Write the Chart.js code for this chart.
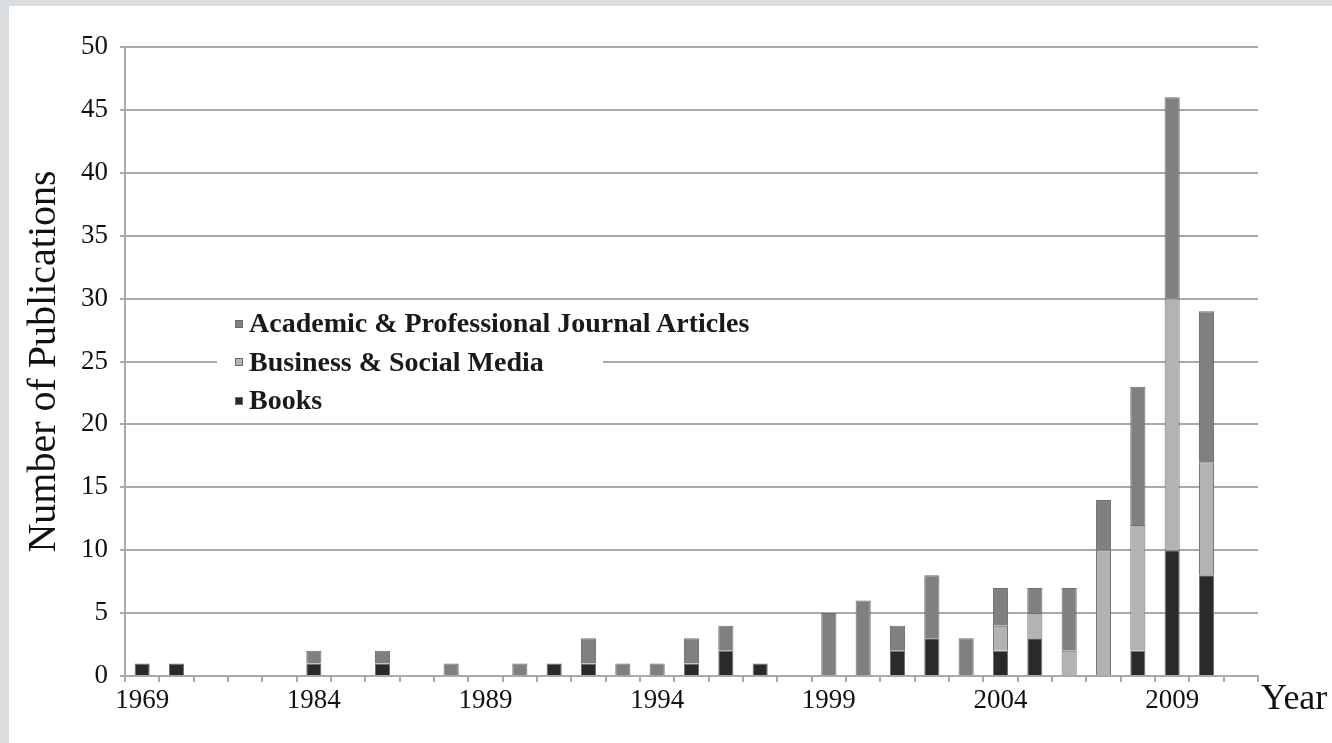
<!DOCTYPE html>
<html>
<head>
<meta charset="utf-8">
<script src="https://cdn.jsdelivr.net/npm/chart.js@4/dist/chart.umd.min.js"></script>
<style>
  html, body { margin: 0; padding: 0; }
  body { width: 1332px; height: 743px; background: #dadde0; position: relative; overflow: hidden; }
  #panel { position: absolute; left: 9px; top: 6px; width: 1323px; height: 737px; background: #ffffff; }
  #c { position: absolute; left: 0; top: 0; }
  #legend { position: absolute; left: 208px; top: 294px; width: 386px; height: 123px; background: #ffffff;
            font-family: "Liberation Serif", "Times New Roman", serif; font-size: 28px; font-weight: bold; color: #1a1a1a; }
  .item { position: absolute; left: 18px; height: 36px; line-height: 36px; white-space: nowrap; }
  .sw { display: inline-block; width: 8px; height: 8px; margin-right: 6px; vertical-align: middle; position: relative; top: -2px; box-sizing: border-box; border: 1px solid #6a6a6a; }
  #year { position: absolute; left: 1252px; top: 673px; font-family: "Liberation Serif", "Times New Roman", serif; font-size: 36px; line-height: 1; color: #111; }
</style>
</head>
<body>
<div id="panel">
  <canvas id="c" width="1323" height="737"></canvas>
  <div id="legend"></div>
  <div id="year">Year</div>
</div>
<script>
const years = ['1969','1970','1981','1982','1983','1984','1985','1986','1987','1988','1989','1990','1991','1992','1993','1994','1995','1996','1997','1998','1999','2000','2001','2002','2003','2004','2005','2006','2007','2008','2009','2010','2011'];
const books    = [1,1,0,0,0,1,0,1,0,0,0,0,1,1,0,0,1,2,1,0,0,0,2,3,0,2,3,0,0,2,10,8,0];
const business = [0,0,0,0,0,0,0,0,0,0,0,0,0,0,0,0,0,0,0,0,0,0,0,0,0,2,2,2,10,10,20,9,0];
const academic = [0,0,0,0,0,1,0,1,0,1,0,1,0,2,1,1,2,2,0,0,5,6,2,5,3,3,2,5,4,11,16,12,0];
const yTicks = [0,5,10,15,20,25,30,35,40,45,50];
const seriesNames = ['Academic & Professional Journal Articles', 'Business & Social Media', 'Books'];
const seriesColors = ['#808080', '#b3b3b3', '#2a2a2a'];

const serif = '"Liberation Serif", "Times New Roman", serif';
const gridColor = '#a9a9a9';

// stacking order: Books (bottom), Business (middle), Academic (top)
const datasets = [
  { label: seriesNames[2], data: books.map(v => v || null), backgroundColor: seriesColors[2] },
  { label: seriesNames[1], data: business.map(v => v || null), backgroundColor: seriesColors[1] },
  { label: seriesNames[0], data: academic.map(v => v || null), backgroundColor: seriesColors[0] }
].map(d => Object.assign(d, { borderColor: '#6e6e6e', borderWidth: 1, categoryPercentage: 0.44, barPercentage: 1 }));

const chart = new Chart(document.getElementById('c'), {
  type: 'bar',
  data: { labels: years, datasets },
  options: {
    responsive: false,
    animation: false,
    layout: { padding: { left: 0, right: 74, top: 41, bottom: 0 } },
    plugins: { legend: { display: false }, tooltip: { enabled: false } },
    scales: {
      x: {
        stacked: true,
        grid: { display: true, drawOnChartArea: false, drawTicks: true, tickLength: 6, color: gridColor, lineWidth: 2, offset: true },
        border: { display: true, color: gridColor, width: 2 },
        ticks: {
          autoSkip: false, maxRotation: 0, minRotation: 0, padding: 3,
          color: '#111', font: { family: serif, size: 27 },
          callback: function(v, i) { return i % 5 === 0 ? years[i] : ''; }
        },
        afterFit: s => { s.height = 67; }
      },
      y: {
        stacked: true, min: 0, max: 50,
        afterBuildTicks: s => { s.ticks = yTicks.map(v => ({ value: v })); },
        grid: { color: gridColor, lineWidth: 2, tickLength: 5, drawTicks: true },
        border: { display: true, color: gridColor, width: 2 },
        ticks: { padding: 12, color: '#111', font: { family: serif, size: 27 } },
        title: { display: true, text: 'Number of Publications', color: '#111', font: { family: serif, size: 40 }, padding: { top: 11, bottom: 0 } },
        afterFit: s => { s.width = 116; }
      }
    }
  }
});

// legend (HTML) built from series names / colours
const legend = document.getElementById('legend');
seriesNames.forEach((name, i) => {
  const div = legend.appendChild(document.createElement('div'));
  div.className = 'item';
  div.style.top = (5 + i * 38.5) + 'px';
  const sw = document.createElement('span');
  sw.className = 'sw';
  sw.style.background = seriesColors[i];
  div.appendChild(sw);
  div.appendChild(document.createTextNode(name));
});
</script>
</body>
</html>
